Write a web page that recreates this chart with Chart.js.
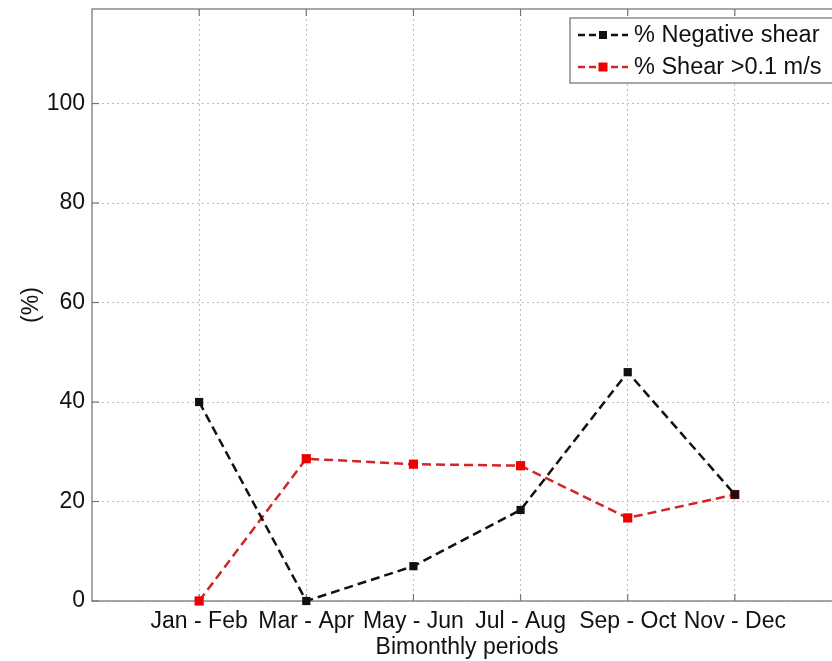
<!DOCTYPE html>
<html>
<head>
<meta charset="utf-8">
<script src="https://cdn.jsdelivr.net/npm/chart.js@4/dist/chart.umd.min.js"></script>
<style>
  html, body { margin: 0; padding: 0; background: #fff; overflow: hidden; }
  #wrap { width: 850px; height: 661px; }
</style>
</head>
<body>
<div id="wrap"><canvas id="chart"></canvas></div>
<script>
// ── Data ─────────────────────────────────────────────
const periods = ["Jan - Feb", "Mar - Apr", "May - Jun", "Jul - Aug", "Sep - Oct", "Nov - Dec"];
const negativeShear = [40, 0, 7, 18.3, 46, 21.4];
const shearAbove01 = [0, 28.6, 27.5, 27.2, 16.7, 21.4];
const yTicks = [0, 20, 40, 60, 80, 100];
const seriesLabels = ["% Negative shear", "% Shear >0.1 m/s"];

const FONT = "'Liberation Sans', Arial, sans-serif";
const BLACK = "#111111";
const RED_LINE = "#d42424";
const RED_MARK = "#ee0000";

const toPoints = (vals) => vals.map((v, i) => ({ x: i + 1, y: v }));

// MATLAB-ish axes box, inward ticks and legend
const axesBox = {
  id: "axesBox",
  beforeDatasetsDraw(chart) {
    const { ctx, chartArea: a, scales } = chart;
    ctx.save();
    ctx.strokeStyle = "#8a8a8a";
    ctx.lineWidth = 1.5;
    ctx.setLineDash([]);
    ctx.strokeRect(a.left, a.top, a.right - a.left, a.bottom - a.top);

    // inward tick marks
    ctx.lineWidth = 1.2;
    ctx.strokeStyle = "#777";
    yTicks.forEach((t) => {
      const y = scales.y.getPixelForValue(t);
      ctx.beginPath();
      ctx.moveTo(a.left, y);
      ctx.lineTo(a.left + 7, y);
      ctx.stroke();
    });
    periods.forEach((p, i) => {
      const x = scales.x.getPixelForValue(i + 1);
      ctx.beginPath();
      ctx.moveTo(x, a.bottom);
      ctx.lineTo(x, a.bottom - 7);
      ctx.moveTo(x, a.top);
      ctx.lineTo(x, a.top + 7);
      ctx.stroke();
    });
    ctx.restore();
  },
  afterDatasetsDraw(chart) {
    const { ctx, chartArea: a } = chart;
    ctx.save();
    // legend
    const lx = a.right - 272, ly = a.top + 9;
    ctx.fillStyle = "#fff";
    ctx.fillRect(lx, ly, 300, 65);
    ctx.strokeStyle = "#8a8a8a";
    ctx.lineWidth = 1.5;
    ctx.strokeRect(lx, ly, 300, 65);

    const rows = [
      { text: seriesLabels[0], line: BLACK, mark: BLACK, size: 8 },
      { text: seriesLabels[1], line: RED_LINE, mark: RED_MARK, size: 9 },
    ];
    rows.forEach((r, i) => {
      const y = ly + 17 + i * 32;
      ctx.strokeStyle = r.line;
      ctx.lineWidth = 2.5;
      ctx.setLineDash([7, 4]);
      ctx.beginPath();
      ctx.moveTo(lx + 8, y);
      ctx.lineTo(lx + 58, y);
      ctx.stroke();
      ctx.setLineDash([]);
      ctx.fillStyle = r.mark;
      ctx.fillRect(lx + 33 - r.size / 2, y - r.size / 2, r.size, r.size);
      ctx.fillStyle = "#111";
      ctx.font = "23.5px " + FONT;
      ctx.textBaseline = "middle";
      ctx.textAlign = "left";
      ctx.fillText(r.text, lx + 64, y + 1);
    });
    ctx.restore();
  },
};

const gridDash = [2, 3];

new Chart(document.getElementById("chart"), {
  type: "line",
  data: {
    datasets: [
      {
        label: seriesLabels[0],
        data: toPoints(negativeShear),
        borderColor: BLACK,
        borderWidth: 2.5,
        borderDash: [9, 5],
        pointStyle: "rect",
        pointRadius: 5.8,
        pointBackgroundColor: BLACK,
        pointBorderColor: BLACK,
        pointBorderWidth: 0,
        tension: 0,
        clip: false,
      },
      {
        label: seriesLabels[1],
        data: toPoints(shearAbove01),
        borderColor: RED_LINE,
        borderWidth: 2.5,
        borderDash: [9, 5],
        pointStyle: "rect",
        pointRadius: 6.5,
        pointBackgroundColor: RED_MARK,
        pointBorderColor: RED_MARK,
        pointBorderWidth: 0,
        tension: 0,
        clip: false,
      },
    ],
  },
  options: {
    responsive: true,
    maintainAspectRatio: false,
    animation: false,
    layout: { padding: { top: 9, right: 8, left: 0, bottom: 0 } },
    plugins: { legend: { display: false }, tooltip: { enabled: false } },
    scales: {
      x: {
        type: "linear",
        min: 0,
        max: 7,
        afterBuildTicks: (s) => { s.ticks = periods.map((p, i) => ({ value: i + 1 })); },
        afterFit: (s) => { s.height = 60; s.paddingLeft = 0; s.paddingRight = 0; },
        ticks: {
          callback: (v) => periods[v - 1] || "",
          color: "#111",
          font: { family: FONT, size: 23 },
          padding: 7,
          maxRotation: 0,
          autoSkip: false,
        },
        grid: { color: "#bdbdbd", lineWidth: 1, drawTicks: false },
        border: { display: false, dash: gridDash },
        title: {
          display: true,
          text: "Bimonthly periods",
          color: "#111",
          font: { family: FONT, size: 23 },
          padding: { top: -3, bottom: 0 },
        },
      },
      y: {
        min: 0,
        max: 119,
        afterBuildTicks: (s) => { s.ticks = yTicks.map((v) => ({ value: v })); },
        afterFit: (s) => { s.width = 92; s.paddingTop = 0; s.paddingBottom = 0; },
        ticks: {
          color: "#111",
          font: { family: FONT, size: 23 },
          padding: 7,
        },
        grid: { color: "#bdbdbd", lineWidth: 1, drawTicks: false },
        border: { display: false, dash: gridDash },
        title: {
          display: true,
          text: "(%)",
          color: "#111",
          font: { family: FONT, size: 23 },
          padding: { top: 18, bottom: 0 },
        },
      },
    },
  },
  plugins: [axesBox],
});
</script>
</body>
</html>
